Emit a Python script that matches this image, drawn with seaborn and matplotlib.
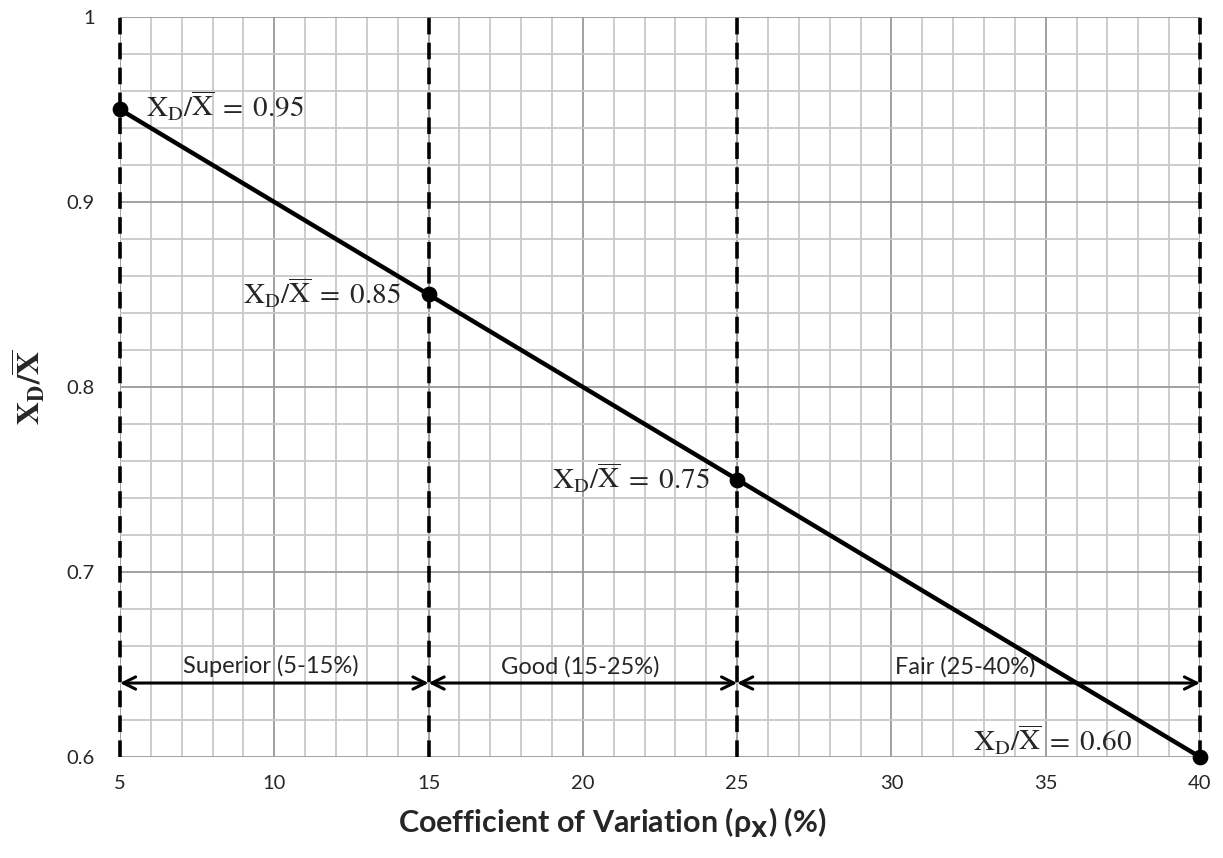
import matplotlib
matplotlib.use("Agg")
import matplotlib.pyplot as plt
from matplotlib.ticker import MultipleLocator
import seaborn as sns
import pandas as pd

# data
cov = [5, 15, 25, 40]
ratio = [0.95, 0.85, 0.75, 0.60]
ratio_text = ["0.95", "0.85", "0.75", "0.60"]
class_names = ["Superior (5-15%)", "Good (15-25%)", "Fair (25-40%)"]
class_bounds = [5, 15, 25, 40]
class_level = 0.64
x_ticks = [5, 10, 15, 20, 25, 30, 35, 40]
y_ticks = [0.6, 0.7, 0.8, 0.9, 1.0]
y_tick_labels = ["0.6", "0.7", "0.8", "0.9", "1"]

sns.set_style("white")
plt.rcParams["font.family"] = ["Lato", "DejaVu Sans"]

df = pd.DataFrame({"cov": cov, "ratio": ratio})

fig = plt.figure(figsize=(12.23, 8.58), dpi=100)
ax = fig.add_axes([0.0981, 0.1177, 0.8831, 0.8625])

# grid
ax.xaxis.set_minor_locator(MultipleLocator(1))
ax.yaxis.set_minor_locator(MultipleLocator(0.02))
ax.set_xticks(x_ticks)
ax.set_yticks(y_ticks)
ax.set_yticklabels(y_tick_labels)
ax.grid(which="minor", color="#c8c8c8", linewidth=1.3, zorder=0)
ax.grid(which="major", color="#9a9a9a", linewidth=1.3, zorder=0)
ax.set_axisbelow(True)
for s in ax.spines.values():
    s.set_visible(False)
ax.tick_params(which="both", length=0, labelsize=14.5)
ax.tick_params(axis="x", pad=13)
ax.tick_params(axis="y", pad=18)

# dashed class boundaries
for xb in class_bounds:
    ax.axvline(xb, color="black", linewidth=2.6, linestyle=(0, (4.6, 2.3)),
               zorder=2, clip_on=False)

sns.lineplot(data=df, x="cov", y="ratio", color="black", linewidth=3.2, ax=ax, zorder=3)
sns.scatterplot(data=df, x="cov", y="ratio", color="black", s=110, edgecolor="black",
                ax=ax, zorder=4, clip_on=False)

# point labels
label_pos = [(5.85, 0.952, "left"), (14.1, 0.851, "right"), (24.1, 0.751, "right"), (37.8, 0.609, "right")]
for (lx, ly, ha), t in zip(label_pos, ratio_text):
    ax.text(lx, ly, r"$\mathrm{X_D}/\overline{\mathrm{X}}\;=\;" + t + "$",
            ha=ha, va="center", fontsize=21, math_fontfamily="stix", zorder=5)

# class arrows
for i, name in enumerate(class_names):
    a, b = class_bounds[i], class_bounds[i + 1]
    ax.annotate("", xy=(a, class_level), xytext=(b, class_level),
                arrowprops=dict(arrowstyle="<->", color="black", lw=2.2,
                                mutation_scale=22, shrinkA=0, shrinkB=0), zorder=5)
    ax.text((a + b) / 2 - 0.1, class_level + 0.003, name, ha="center", va="bottom",
            fontsize=17, zorder=5)

ax.set_xlim(5, 40)
ax.set_ylim(0.6, 1.0)
ax.set_xlabel(r"Coefficient of Variation (ρ$_{\mathbf{X}}$) (%)", fontsize=22,
              fontweight="bold", math_fontfamily="dejavusans")
ax.xaxis.set_label_coords(0.4556, -0.066)
ax.set_ylabel(r"$\mathbf{X_D/\overline{X}}$", fontsize=23, labelpad=14,
              math_fontfamily="stix")

fig.savefig("out.png", dpi=100)
